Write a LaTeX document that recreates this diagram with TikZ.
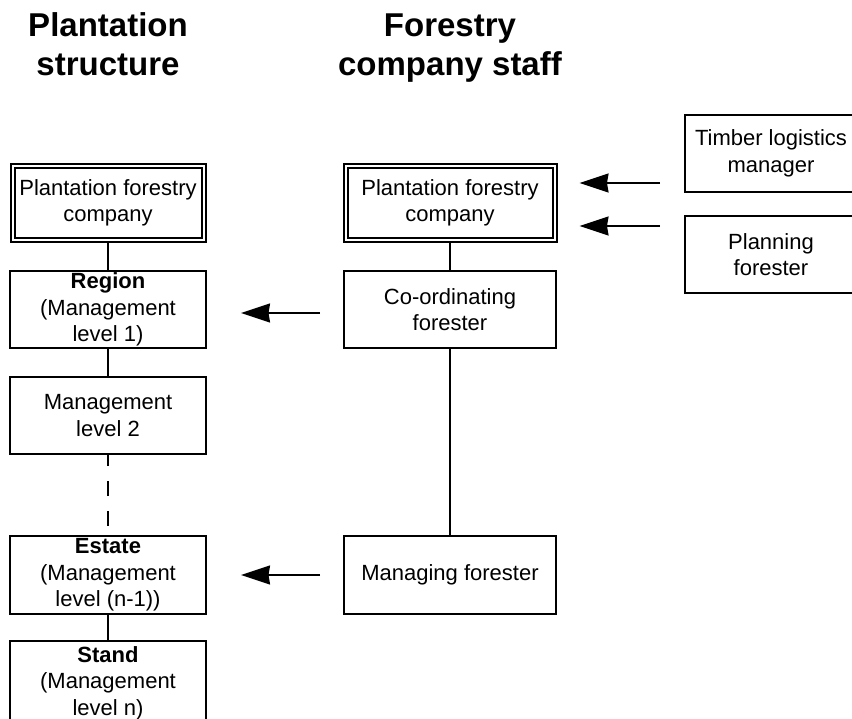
\documentclass[tikz,border=0pt]{standalone}
\usepackage{fontspec}
\setmainfont{Liberation Sans}
\usetikzlibrary{arrows.meta,backgrounds}
\begin{document}
\begin{tikzpicture}[x=1pt,y=-1pt,
  every node/.style={inner sep=0pt, outer sep=0pt},
  box/.style={draw, line width=1.7pt, fill=white, align=center,
    font=\fontsize{22}{26.5}\selectfont, minimum height=77pt},
  leftbox/.style={box, minimum width=196pt},
  midbox/.style={box, minimum width=212pt},
  rightbox/.style={box, minimum width=172pt},
  topbox/.style={box, double, double distance=2pt, line width=2pt, minimum height=74pt},
  title/.style={align=center, font=\fontsize{33}{39}\selectfont\bfseries},
  link/.style={line width=1.8pt},
  flow/.style={line width=1.8pt, -{Stealth[length=29pt,width=19pt,inset=1.5pt]}}
]
\useasboundingbox (0,0) rectangle (852,719);
\clip (0,0) rectangle (852,719);

% column headings
\node[title] (h1) at (108,44.5) {Plantation\\structure};
\node[title] (h2) at (450,48) {Forestry\\company staff};

% plantation structure
\node[topbox, minimum width=191pt] (pc1) at (108,203) {Plantation forestry\\company};
\node[leftbox] (reg) at (108,309.5) {\textbf{Region}\\(Management\\level 1)};
\node[leftbox] (ml2) at (108,415.5) {Management\\level 2};
\node[leftbox, minimum height=78pt] (est) at (108,575) {\textbf{Estate}\\(Management\\level (n-1))};
\node[leftbox, minimum height=84pt] (std) at (108,683) {\textbf{Stand}\\(Management\\level n)};

% company staff
\node[topbox, minimum width=209pt] (pc2) at (450,203) {Plantation forestry\\company};
\node[midbox] (cof) at (450,309.5) {Co-ordinating\\forester};
\node[midbox, minimum height=78pt] (mf) at (450,575) {Managing forester};
\node[rightbox] (tlm) at (771,153.5) {Timber logistics\\manager};
\node[rightbox] (plf) at (771,254.5) {Planning\\forester};

% hierarchy links
\begin{scope}[on background layer]
  \draw[link] (pc1) -- (reg);
  \draw[link] (reg) -- (ml2);
  \draw[link, dash pattern=on 15pt off 15pt, dash phase=20pt] (est) -- (ml2);
  \draw[link] (est) -- (std);
  \draw[link] (pc2) -- (cof);
  \draw[link] (cof) -- (mf);
\end{scope}

% reporting arrows
\coordinate (ya) at (0,183);
\coordinate (yb) at (0,226);
\coordinate (yc) at (0,313);
\draw[flow, shorten <=25pt, shorten >=25pt] (tlm.west |- ya) -- (pc2.east |- ya);
\draw[flow, shorten <=25pt, shorten >=25pt] (plf.west |- yb) -- (pc2.east |- yb);
\draw[flow, shorten <=24pt, shorten >=35pt] (cof.west |- yc) -- (reg.east |- yc);
\draw[flow, shorten <=24pt, shorten >=35pt] (mf.west) -- (est.east);
\end{tikzpicture}
\end{document}
